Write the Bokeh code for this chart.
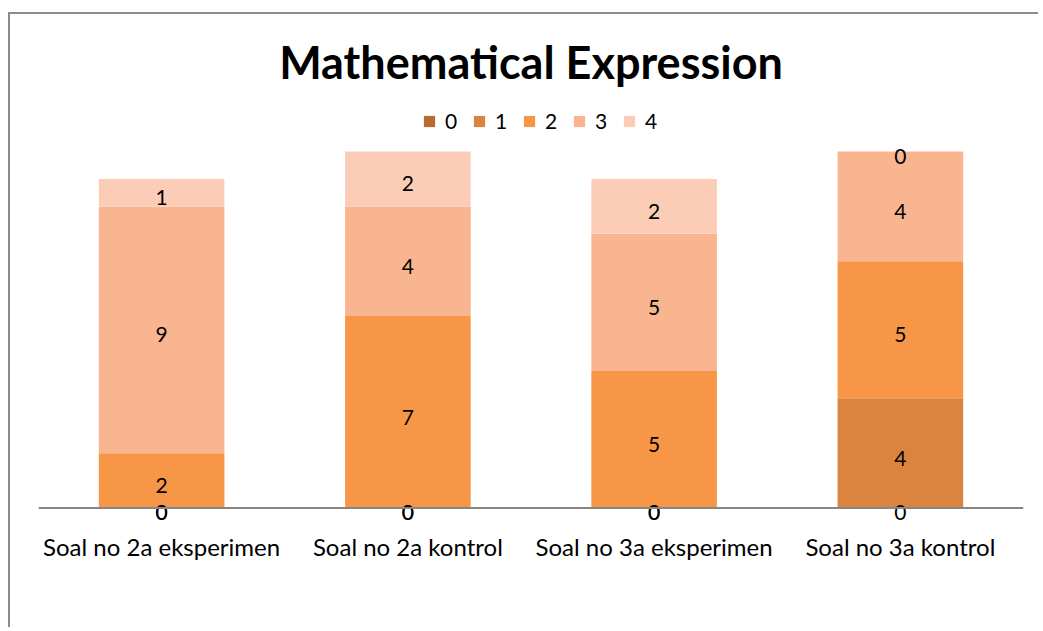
import numpy as np
from bokeh.plotting import figure
from bokeh.models import FactorRange, Range1d, Legend, LegendItem, Label, ColumnDataSource, Span
from bokeh.core.properties import value
from bokeh.embed import file_html
from bokeh.resources import INLINE

# ---- data ----
categories = ["Soal no 2a eksperimen", "Soal no 2a kontrol", "Soal no 3a eksperimen", "Soal no 3a kontrol"]
series_names = ["0", "1", "2", "3", "4"]
s0 = [0, 0, 0, 0]
s1 = [0, 0, 0, 4]
s2 = [2, 7, 5, 5]
s3 = [9, 4, 5, 4]
s4 = [1, 2, 2, 0]
colors = ["#B86A30", "#DA843F", "#F79646", "#F9B590", "#FBCDB6"]
title_text = "Mathematical Expression"

FONT = "Lato"
series = [s0, s1, s2, s3, s4]

data = {"cat": categories}
for n, s in zip(series_names, series):
    data[n] = s
src = ColumnDataSource(data)

p = figure(
    x_range=FactorRange(*categories, range_padding=0),
    y_range=Range1d(-0.64, 18.0),
    width=1030, height=615,
    output_backend="svg", toolbar_location=None,
    y_axis_location=None,
    min_border_left=28, min_border_right=17, min_border_top=0, min_border_bottom=104,
    margin=(12, 0, 0, 8),
    styles={"border-top": "2px solid #8C8C8C", "border-left": "2px solid #8C8C8C"},
)
p.outline_line_color = None
p.xgrid.visible = False
p.ygrid.visible = False

renderers = p.vbar_stack(series_names, x="cat", width=0.51, color=colors, source=src, line_color=None)

# baseline
p.add_layout(Span(location=0, dimension="width", line_color="#868686", line_width=2))

# value labels in the middle of each segment
vals = np.array(series, dtype=float)
cum = np.cumsum(vals, axis=0)
mids = cum - vals / 2.0
lx, ly, lt = [], [], []
for i in range(len(series)):
    for j, c in enumerate(categories):
        lx.append(c)
        ly.append(mids[i, j])
        lt.append(str(series[i][j]))
lsrc = ColumnDataSource(dict(x=lx, y=ly, t=lt))
p.text(x="x", y="y", text="t", source=lsrc, text_align="center", text_baseline="middle",
       y_offset=5, text_font=value(FONT), text_font_size="21px", text_color="#000000")

# axis
ax = p.xaxis[0]
ax.axis_line_color = None
ax.major_tick_line_color = None
ax.minor_tick_line_color = None
ax.major_label_standoff = 0
ax.major_label_text_font = FONT
ax.major_label_text_font_size = "24px"
ax.major_label_text_color = "#000000"

# title
p.add_layout(Label(x=2, y=16.26, text=title_text, text_align="center", text_baseline="middle",
                   text_font=FONT, text_font_size="45px", text_font_style="bold", text_color="#000000"))

# legend
items = [LegendItem(label=n, renderers=[r]) for n, r in zip(series_names, renderers)]
legend = Legend(items=items, orientation="horizontal", location=(384, 392),
                padding=0, spacing=7, border_line_color=None, background_fill_alpha=0,
                glyph_width=14, glyph_height=14, label_standoff=9, label_height=14,
                label_text_font=FONT, label_text_font_size="21px", label_text_color="#000000")
p.add_layout(legend)

open("out.html", "w").write(file_html(p, INLINE))
